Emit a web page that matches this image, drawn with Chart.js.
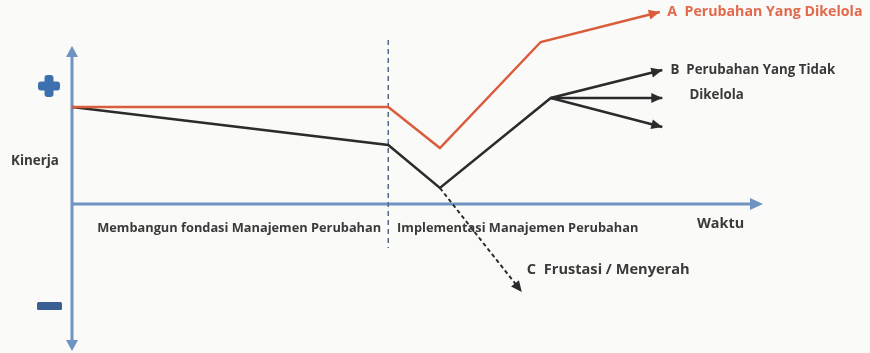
<!DOCTYPE html>
<html><head><meta charset="utf-8">
<script src="https://cdn.jsdelivr.net/npm/chart.js@4/dist/chart.umd.min.js"></script>
<style>
html,body{margin:0;padding:0;background:#fafaf8;}
#wrap{width:870px;height:353px;}
</style>
</head><body>
<div id="wrap"><canvas id="c" width="870" height="353"></canvas></div>
<script>
// x = waktu (time), y = kinerja (performance); 0 on each is where the axes cross
const phaseBoundary = 5.02;

// A: managed change
const managedT = [0, 5.02, 5.84, 7.44, 9.33];
const managedY = [4.85, 4.85, 2.8, 8.1, 9.6];

// B: unmanaged change (main path plus two other outcomes)
const unmanagedT = [0, 5.02, 5.84, 7.6, 9.37];
const unmanagedY = [4.85, 2.95, 0.8, 5.3, 6.7];
const branchT = [7.6, 9.37];
const branchFlatY = [5.3, 5.3];
const branchDownY = [5.3, 3.85];

// C: frustration / giving up
const frustT = [5.84, 7.14];
const frustY = [0.8, -4.4];

const labels = {
  a: 'A  Perubahan Yang Dikelola',
  b1: 'B  Perubahan Yang Tidak',
  b2: 'Dikelola',
  c: 'C  Frustasi / Menyerah',
  yAxis: 'Kinerja',
  xAxis: 'Waktu',
  phase1: 'Membangun fondasi Manajemen Perubahan',
  phase2: 'Implementasi Manajemen Perubahan'
};

const RED = '#d95c3d';
const BLACK = '#2b2b2b';
const AXIS = '#6f93c2';
const TEXT = '#3a3a3a';

const pts = (xs, ys) => xs.map((x, i) => ({x, y: ys[i]}));

function arrowHead(ctx, x0, y0, x1, y1, len, half, color) {
  const a = Math.atan2(y1 - y0, x1 - x0);
  ctx.save();
  ctx.fillStyle = color;
  ctx.beginPath();
  ctx.moveTo(x1, y1);
  ctx.lineTo(x1 - len * Math.cos(a) + half * Math.sin(a), y1 - len * Math.sin(a) - half * Math.cos(a));
  ctx.lineTo(x1 - len * Math.cos(a) - half * Math.sin(a), y1 - len * Math.sin(a) + half * Math.cos(a));
  ctx.closePath();
  ctx.fill();
  ctx.restore();
}

const diagram = {
  id: 'diagram',
  beforeDatasetsDraw(chart) {
    const {ctx, scales: {x, y}} = chart;
    const ox = x.getPixelForValue(0), oy = y.getPixelForValue(0);
    const top = chart.chartArea.top + 2, bottom = chart.chartArea.bottom + 1;
    const right = chart.chartArea.right - 2;
    ctx.save();
    // axes
    ctx.strokeStyle = AXIS;
    ctx.lineWidth = 3;
    ctx.beginPath();
    ctx.moveTo(ox, top + 8); ctx.lineTo(ox, bottom - 8);
    ctx.moveTo(ox, oy); ctx.lineTo(right - 10, oy);
    ctx.stroke();
    arrowHead(ctx, ox, oy, ox, top, 11, 6, AXIS);
    arrowHead(ctx, ox, oy, ox, bottom, 11, 6, AXIS);
    arrowHead(ctx, ox, oy, right, oy, 13, 6, AXIS);
    // phase divider
    const dx = x.getPixelForValue(phaseBoundary);
    ctx.strokeStyle = '#55698a';
    ctx.lineWidth = 1.5;
    ctx.setLineDash([5, 4]);
    ctx.beginPath();
    ctx.moveTo(dx, y.getPixelForValue(8.2)); ctx.lineTo(dx, y.getPixelForValue(-2.2));
    ctx.stroke();
    ctx.setLineDash([]);
    // plus and minus markers
    const mx = ox - 23;
    const py = y.getPixelForValue(5.9);
    ctx.fillStyle = '#3d70ae';
    ctx.beginPath();
    ctx.roundRect(mx - 11, py - 4.5, 22, 9, 3);
    ctx.roundRect(mx - 4.5, py - 11, 9, 22, 3);
    ctx.fill();
    const ny = y.getPixelForValue(-5.1);
    ctx.fillStyle = '#3b5f92';
    ctx.beginPath();
    ctx.roundRect(mx - 12, ny - 4, 25, 8, 1.5);
    ctx.fill();
    ctx.restore();
  },
  afterDatasetsDraw(chart) {
    const {ctx, scales: {x, y}} = chart;
    ctx.save();
    chart.data.datasets.forEach(ds => {
      if (!ds.arrow) return;
      const d = ds.data, n = d.length;
      arrowHead(ctx,
        x.getPixelForValue(d[n - 2].x), y.getPixelForValue(d[n - 2].y),
        x.getPixelForValue(d[n - 1].x), y.getPixelForValue(d[n - 1].y),
        11, 5, ds.borderColor);
    });
    const put = (txt, px, py, color, size) => {
      ctx.fillStyle = color;
      ctx.font = 'bold ' + size + 'px "Open Sans", Lato, sans-serif';
      ctx.textBaseline = 'middle';
      ctx.textAlign = 'left';
      ctx.fillText(txt, px, py);
    };
    const tx = v => x.getPixelForValue(v), ty = v => y.getPixelForValue(v);
    put(labels.a, tx(9.45), ty(9.6), '#e2694a', 14.2);
    put(labels.b1, tx(9.5), ty(6.7), TEXT, 13.3);
    put(labels.b2, tx(9.8), ty(5.45), TEXT, 13.3);
    put(labels.c, tx(7.22), ty(-3.3), TEXT, 14.6);
    put(labels.xAxis, tx(9.92), ty(-1.0), TEXT, 14.4);
    put(labels.phase1, tx(0.4), ty(-1.2), TEXT, 12.8);
    put(labels.phase2, tx(5.16), ty(-1.2), TEXT, 12.8);
    put(labels.yAxis, 11, ty(2.15), TEXT, 13.4);
    ctx.restore();
  }
};

const lineDs = (data, color, extra) => Object.assign({
  data, borderColor: color, backgroundColor: color, borderWidth: 2.5,
  pointRadius: 0, showLine: true, tension: 0, clip: false, fill: false
}, extra || {});

new Chart(document.getElementById('c'), {
  type: 'scatter',
  data: {
    datasets: [
      lineDs(pts(managedT, managedY), RED, {arrow: true}),
      lineDs(pts(unmanagedT, unmanagedY), BLACK, {arrow: true}),
      lineDs(pts(branchT, branchFlatY), BLACK, {arrow: true}),
      lineDs(pts(branchT, branchDownY), BLACK, {arrow: true}),
      lineDs(pts(frustT, frustY), BLACK, {arrow: true, borderDash: [4, 3], borderWidth: 2})
    ]
  },
  options: {
    responsive: false,
    devicePixelRatio: 1,
    animation: false,
    layout: {padding: {left: 72, right: 105, top: 44, bottom: 3}},
    plugins: {legend: {display: false}, tooltip: {enabled: false}},
    scales: {
      x: {type: 'linear', min: 0, max: 11, display: false},
      y: {type: 'linear', min: -7.3, max: 8, display: false}
    }
  },
  plugins: [diagram]
});
</script>
</body></html>
